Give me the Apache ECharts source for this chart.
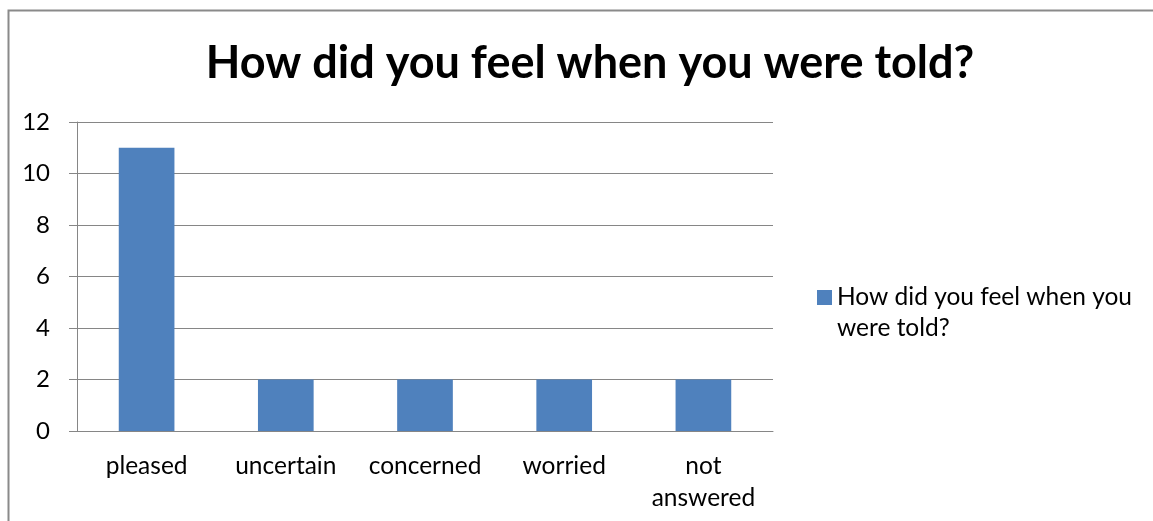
<!DOCTYPE html>
<html>
<head>
<meta charset="utf-8">
<script src="https://cdn.jsdelivr.net/npm/echarts@6/dist/echarts.min.js"></script>
<style>
  html, body { margin: 0; padding: 0; background: #fff; }
  #chart { width: 1153px; height: 521px; }
</style>
</head>
<body>
<div id="chart"></div>
<script>
// Survey answers: how respondents felt when they were told
const chartTitle = 'How did you feel when you were told?';
const categories = ['pleased', 'uncertain', 'concerned', 'worried', 'not answered'];
const counts = [11, 2, 2, 2, 2];
const yTicks = { min: 0, max: 12, step: 2 };

const FONT = 'Lato, "Open Sans", sans-serif';
const AXIS_GREY = '#868686';

const chart = echarts.init(document.getElementById('chart'), null, { renderer: 'canvas' });
chart.setOption({
  backgroundColor: '#ffffff',
  animation: false,
  title: {
    text: chartTitle,
    left: 585,
    textAlign: 'center',
    top: 36,
    textStyle: { fontFamily: FONT, fontWeight: 'bold', fontSize: 45, color: '#000' }
  },
  graphic: [{
    type: 'polyline',
    shape: { points: [[8.5, 600], [8.5, 10.5], [1200, 10.5]] },
    style: { stroke: '#8a8a8a', lineWidth: 2, fill: null },
    silent: true
  }],
  legend: {
    left: 812,
    top: 246,
    orient: 'vertical',
    itemWidth: 15,
    itemHeight: 15,
    icon: 'rect',
    // leading empty line keeps the marker level with the first text line
    formatter: name => '\n' + name.replace(' were', '\nwere'),
    textStyle: {
      fontFamily: FONT, fontSize: 24.5, color: '#000', lineHeight: 31
    }
  },
  grid: { left: 77, right: 380, top: 122, bottom: 90, containLabel: false },
  xAxis: {
    type: 'category',
    data: categories,
    axisLine: { lineStyle: { color: AXIS_GREY, width: 1 } },
    axisTick: { alignWithLabel: false, length: 6, lineStyle: { color: AXIS_GREY } },
    axisLabel: {
      margin: 19,
      fontFamily: FONT, fontSize: 24.5, color: '#000', lineHeight: 32,
      interval: 0,
      formatter: v => v.replace(' ', '\n')
    }
  },
  yAxis: {
    type: 'value',
    min: yTicks.min,
    max: yTicks.max,
    interval: yTicks.step,
    axisLine: { show: true, lineStyle: { color: AXIS_GREY, width: 1 } },
    axisTick: { show: true, length: 8, lineStyle: { color: AXIS_GREY } },
    splitLine: { lineStyle: { color: AXIS_GREY, width: 1 } },
    axisLabel: { margin: 27, fontFamily: FONT, fontSize: 24, color: '#000' }
  },
  series: [{
    name: chartTitle,
    type: 'bar',
    data: counts,
    barWidth: '40%',
    itemStyle: { color: '#4F81BD' }
  }]
});
</script>
</body>
</html>
